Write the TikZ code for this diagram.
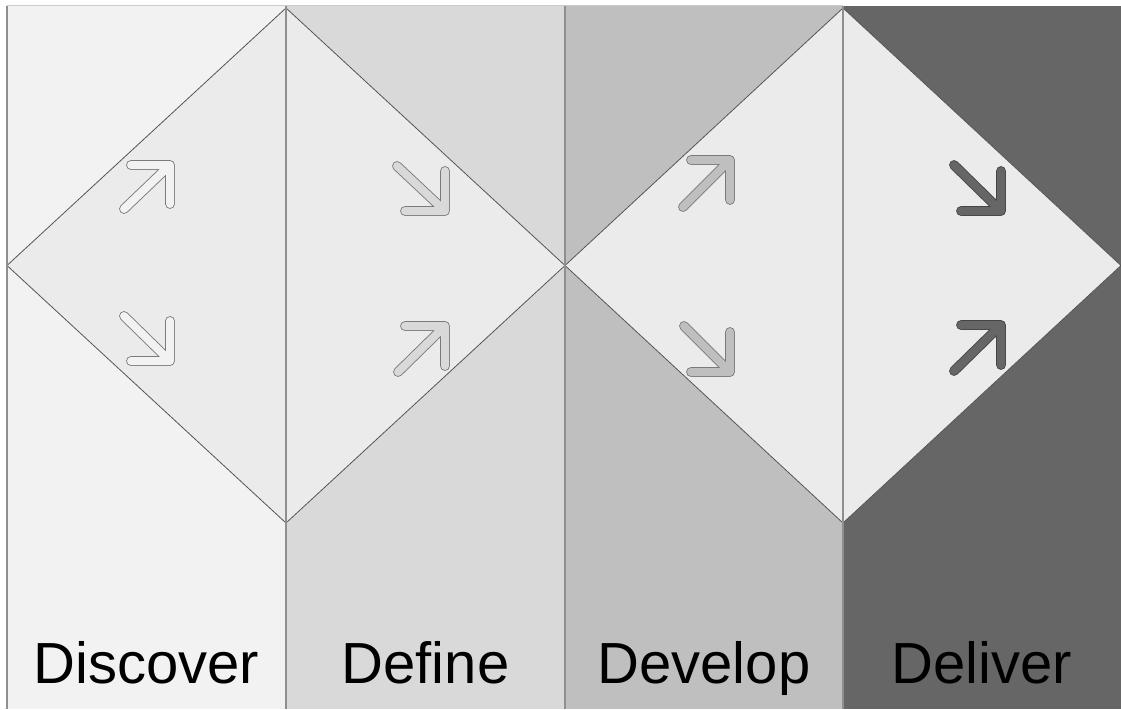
\documentclass[tikz,border=0pt]{standalone}
\usepackage{fontspec}
\setmainfont{Liberation Sans}
\definecolor{cA}{HTML}{F2F2F2}
\definecolor{cB}{HTML}{D9D9D9}
\definecolor{cC}{HTML}{BFBFBF}
\definecolor{cD}{HTML}{666666}
\definecolor{diafill}{HTML}{EBEBEB}
\definecolor{diaedge}{HTML}{555555}
\definecolor{divgray}{HTML}{8F8F8F}
\definecolor{topgray}{HTML}{CCCCCC}
\definecolor{arrline}{HTML}{7A7A7A}
\definecolor{arrdark}{HTML}{454545}
\begin{document}
\begin{tikzpicture}[x=1pt,y=-1pt,
  colbox/.style={fill=#1, draw=none},
  dia/.style={fill=diafill, draw=diaedge, line width=0.8pt, line join=miter},
  divider/.style={draw=divgray, line width=1.3pt},
  arr/.style={draw=arrline, line width=0.9pt, double=#1, double distance=8pt, line cap=round, line join=round},
  darr/.style={draw=arrdark, line width=0.9pt, double=#1, double distance=8pt, line cap=round, line join=round},
  lbl/.style={font=\fontsize{58}{60}\selectfont, text=black, anchor=base, inner sep=0pt}]
\useasboundingbox (0,0) rectangle (1121,709);
% columns
\fill[colbox=cA] (7,6) rectangle (286,709);
\fill[colbox=cB] (286,6) rectangle (565,709);
\fill[colbox=cC] (565,6) rectangle (843,709);
\fill[colbox=cD] (843,6) rectangle (1121,709);
\draw[topgray, line width=1pt] (7,6) -- (843,6);
% diamonds
\coordinate (L) at (7,265.5);
\coordinate (T1) at (286,8);
\coordinate (M) at (565,265.5);
\coordinate (B1) at (286,523);
\coordinate (T2) at (843,8);
\coordinate (R) at (1121,265.5);
\coordinate (B2) at (843,523);
\draw[dia] (L) -- (T1) -- (M) -- (B1) -- cycle;
\draw[dia] (M) -- (T2) -- (R) -- (B2) -- cycle;
% dividers
\draw[divider] (7,6) -- (7,709);
\draw[divider] (286,6) -- (286,709);
\draw[divider] (565,6) -- (565,709);
\draw[divider] (843,6) -- (843,709);
% arrows: Discover
\draw[arr=cA] (131,165) -- (170,165) -- (170,204) (124,209) -- (170,165);
\draw[arr=cA] (170,321) -- (170,361) -- (131,361) (124,316) -- (170,361);
% Define
\draw[arr=cB] (445,171) -- (445,211) -- (405,211) (397,166) -- (445,211);
\draw[arr=cB] (405,326) -- (445,326) -- (445,366) (398,372) -- (445,326);
% Develop
\draw[arr=cC] (691,160) -- (730,160) -- (730,200) (683,207) -- (730,160);
\draw[arr=cC] (730,332) -- (730,372) -- (691,372) (684,326) -- (730,372);
% Deliver
\draw[darr=cD] (1001,171) -- (1001,211) -- (961,211) (954,165) -- (1001,211);
\draw[darr=cD] (961,325) -- (1001,325) -- (1001,365) (954,371) -- (1001,325);
% labels
\node[lbl] (discover) at (146.5,683) {Discover};
\node[lbl] (define) at (425.5,683) {Define};
\node[lbl] (develop) at (704,683) {Develop};
\node[lbl] (deliver) at (982,683) {Deliver};
\end{tikzpicture}
\end{document}
